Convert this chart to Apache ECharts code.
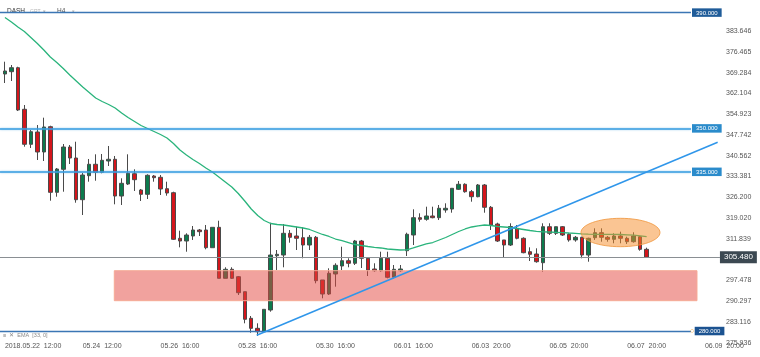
<!DOCTYPE html>
<html><head><meta charset="utf-8">
<script src="https://cdn.jsdelivr.net/npm/echarts@6/dist/echarts.min.js"></script>
<style>html,body{margin:0;padding:0;background:#fff}#c{width:760px;height:357px}</style>
</head><body><div id="c"></div>
<script>
// ---------- data ----------
const xTickIndex = [0, 12, 24, 36, 48, 60, 72, 84, 96, 108];
const xTickLabels = ['2018.05.22  12:00', '05.24  12:00', '05.26  16:00', '05.28  16:00', '05.30  16:00',
  '06.01  16:00', '06.03  20:00', '06.05  20:00', '06.07  20:00', '06.09  20:00'];
const yTickValues = [275.936, 283.116, 290.297, 297.478, 311.839, 319.020, 326.200, 333.381,
  340.562, 347.742, 354.923, 362.104, 369.284, 376.465, 383.646];

const opens = [368.79,369.59,370.97,356.60,344.51,348.76,341.85,350.59,327.92,335.87,
  343.57,339.77,325.37,333.66,337.60,334.83,338.74,339.33,326.64,330.79,
  334.35,328.72,327.23,333.55,333.11,329.17,327.79,312.04,311.10,312.83,
  314.90,314.90,308.79,315.83,298.21,301.33,298.77,293.59,284.40,280.94,
  279.77,287.26,306.02,306.26,313.76,312.83,312.24,309.72,312.38,297.63,
  292.79,299.70,302.47,304.30,303.40,311.10,305.13,301.43,300.84,305.13,
  298.56,300.84,307.75,313.17,319.15,318.60,319.74,319.15,321.81,322.15,
  328.96,330.69,328.13,326.40,330.45,322.74,316.97,311.46,309.72,315.49,
  312.04,307.40,306.61,303.60,316.04,313.76,316.04,313.42,311.46,312.38,
  306.26,312.24,313.97,312.38,311.69,312.83,312.04,310.86,312.59,308.23];
const closes = [369.83,370.97,356.36,344.51,348.86,341.85,350.48,327.92,335.97,343.57,
  339.77,325.37,333.90,337.60,334.83,338.98,339.33,326.64,331.03,334.49,
  332.28,327.23,333.80,332.97,329.07,327.68,311.69,311.10,313.17,314.90,
  314.32,308.79,315.83,298.21,301.33,298.21,293.24,284.05,280.94,279.77,
  287.50,306.26,306.50,313.76,312.38,312.04,309.72,312.38,297.39,292.79,
  299.95,302.71,304.30,303.40,311.10,305.13,301.08,300.84,305.13,298.56,
  301.33,301.43,313.42,319.15,318.60,319.74,319.15,322.40,322.40,329.31,
  330.69,328.13,326.40,330.45,322.74,316.63,311.10,309.72,316.11,312.04,
  307.06,306.50,303.95,316.04,313.76,316.04,313.17,311.46,312.38,306.26,
  312.04,313.97,312.38,311.69,312.83,312.04,310.86,312.83,308.23,305.48];
const lows = [365.68,366.37,356.00,343.68,343.23,339.08,338.74,325.02,326.40,328.13,
  337.70,324.33,320.08,331.59,331.93,334.49,337.01,323.78,323.54,330.45,
  328.38,324.92,325.61,331.59,326.99,326.75,311.46,308.92,307.40,311.46,
  312.83,308.23,308.79,298.21,298.21,297.97,292.45,282.67,279.42,278.29,
  279.77,286.68,301.08,302.02,310.52,307.99,305.13,307.99,296.49,291.31,
  292.45,295.32,301.08,302.02,302.81,301.77,299.01,300.50,300.50,298.21,
  298.21,300.50,305.92,309.72,317.77,318.11,318.94,318.35,320.88,320.88,
  328.72,327.79,324.68,326.20,320.88,314.90,310.76,305.47,309.37,311.69,
  306.86,304.19,303.60,300.50,313.17,313.17,312.83,310.86,310.86,305.13,
  303.95,311.46,310.86,310.86,310.31,310.31,310.07,310.52,307.75,305.48];
const highs = [373.04,371.90,371.30,358.08,349.45,351.17,353.70,350.93,336.32,344.61,
  344.26,345.40,334.59,339.43,341.05,341.16,343.92,340.47,332.76,341.05,
  335.87,329.07,334.14,333.90,333.90,331.59,328.13,314.66,313.76,316.28,
  315.25,316.63,315.83,318.11,302.02,302.02,299.01,293.59,285.19,282.67,
  287.50,317.42,307.99,316.97,314.90,316.04,315.83,313.17,312.83,297.63,
  301.67,303.40,309.13,305.13,311.46,311.46,305.47,303.40,307.40,307.40,
  302.81,302.81,313.97,322.05,320.67,322.95,322.95,323.54,324.12,329.31,
  331.83,331.03,328.72,330.79,330.79,323.19,317.42,311.46,317.22,316.63,
  312.38,308.92,308.58,317.22,317.22,316.04,316.28,313.76,312.83,312.59,
  312.24,315.49,315.49,312.83,313.76,314.32,312.59,314.11,312.83,308.79];
const ema33 = [388.31,386.75,385.03,383.47,381.40,379.33,377.08,374.66,372.76,370.69,
  368.45,366.37,364.30,362.40,360.50,359.29,358.26,357.05,355.32,353.76,
  352.38,351.00,349.96,348.93,347.89,346.68,344.78,342.54,340.81,339.26,
  337.87,336.32,334.94,333.21,331.48,329.76,327.51,324.92,322.16,319.91,
  318.18,317.15,316.80,316.63,316.28,315.94,315.59,315.08,314.21,313.35,
  312.66,311.79,311.27,310.58,309.89,309.55,309.20,308.93,308.69,308.34,
  308.17,308.00,308.07,308.69,309.38,310.07,310.58,311.45,312.31,313.35,
  314.38,315.25,315.94,316.35,316.63,316.46,316.11,315.94,315.77,315.42,
  315.08,314.73,314.45,314.28,314.21,314.10,314.00,313.86,313.76,313.59,
  313.45,313.42,313.42,313.42,313.42,313.35,313.25,313.11,312.90,312.59];

const levels = [390, 350, 335, 280];
const levelLabels = ['390.000', '350.000', '335.000', '280.000'];
const lastPrice = 305.48;
const supportZone = [16.87, 106.77, 290.48, 300.84];   // [fromIdx, toIdx, low, high]
const rangeEllipse = [88.87, 101.06, 309.13, 318.94];  // [fromIdx, toIdx, low, high]
const trendLine = [[38.84, 278.53], [109.96, 345.20]];

// ---------- axis extents ----------
const X_MIN = -0.762, X_MAX = 116.49, LEVEL_END = 105.84, PRICE_END = 110.31;
const Y_MIN = 275.936, Y_MAX = 394.354;

const FONT = 'Liberation Sans, Arial, sans-serif';
const candleData = opens.map((o, i) => [i, o, closes[i], lows[i], highs[i]]);
const emaData = ema33.map((v, i) => [i, v]);

const levelStyles = [
  {line: {color: '#3b76b4', width: 1.3}, bg: '#1f5c99'},
  {line: {color: '#3a9ee0', width: 1.6, shadowBlur: 2, shadowColor: 'rgba(58,158,224,0.6)'}, bg: '#2a8bcb'},
  {line: {color: '#3a9ee0', width: 1.6, shadowBlur: 2, shadowColor: 'rgba(58,158,224,0.6)'}, bg: '#2a8bcb'},
  {line: {color: '#3b76b4', width: 1.3}, bg: '#1c5391'}
];

const markLines = levels.map((v, k) => {
  const isAlert = k === 3;
  return [{
    coord: [X_MIN, v],
    lineStyle: Object.assign({type: 'solid'}, levelStyles[k].line),
    label: {
      show: true, position: 'end', distance: isAlert ? -1 : 1,
      formatter: isAlert ? '{c|○}{b|' + levelLabels[k] + '}' : '{b|' + levelLabels[k] + '}',
      rich: {
        b: {backgroundColor: levelStyles[k].bg, color: '#fff', fontSize: 6, fontFamily: FONT, padding: [1.5, 4, 1, 4]},
        c: {color: '#f0a030', fontSize: 7, fontFamily: FONT, padding: [0, 0.5, 0, 0]}
      }
    }
  }, {coord: [LEVEL_END, v]}];
});
markLines.push([{
  coord: [X_MIN, lastPrice],
  lineStyle: {type: 'solid', color: '#8a8f93', width: 1},
  label: {show: true, position: 'end', distance: 0, formatter: lastPrice.toFixed(3),
    backgroundColor: '#3c4952', color: '#fff', fontSize: 8, fontFamily: FONT, padding: [2, 4, 2, 4]}
}, {coord: [PRICE_END, lastPrice]}]);

const chart = echarts.init(document.getElementById('c'), null, {renderer: 'canvas'});
chart.setOption({
  animation: false,
  backgroundColor: '#ffffff',
  grid: {left: 0, right: 0, top: 0, bottom: 14.2, containLabel: false, outerBoundsMode: 'none'},
  xAxis: {
    type: 'value', min: X_MIN, max: X_MAX,
    axisLine: {show: false}, axisTick: {show: false}, splitLine: {show: false},
    axisLabel: {
      customValues: xTickIndex,
      formatter: v => xTickLabels[xTickIndex.indexOf(Math.round(v))] || '',
      align: 'left', fontSize: 7, color: '#555', margin: 0, fontFamily: FONT
    }
  },
  yAxis: {
    type: 'value', position: 'right', offset: -38, min: Y_MIN, max: Y_MAX, scale: true,
    axisLine: {show: false},
    axisTick: {show: false},
    splitLine: {show: false},
    axisLabel: {customValues: yTickValues, formatter: v => v.toFixed(3), fontSize: 7, color: '#555', margin: 4, fontFamily: FONT}
  },
  graphic: [
    {type: 'text', x: 7, y: 8, style: {text: 'DASH', fill: '#333', fontSize: 6.5, fontFamily: FONT}},
    {type: 'text', x: 30, y: 9, style: {text: 'GRT  ▾', fill: '#b5b5b5', fontSize: 5, fontFamily: FONT}},
    {type: 'text', x: 57, y: 8, style: {text: 'H4', fill: '#555', fontSize: 6.5, fontFamily: FONT}},
    {type: 'text', x: 72, y: 9, style: {text: '▾', fill: '#b5b5b5', fontSize: 5, fontFamily: FONT}},
    {type: 'text', x: 3, y: 332, style: {text: '≡  ✕  EMA  [33, 0]', fill: '#888', fontSize: 5.5, fontFamily: FONT}}
  ],
  series: [
    {
      type: 'candlestick', name: 'DASH', data: candleData, encode: {x: 0, y: [1, 2, 3, 4]},
      barWidth: 4, z: 2,
      itemStyle: {color: '#0c7b4d', color0: '#d4151b', borderColor: '#4a4a4a', borderColor0: '#4a4a4a', borderWidth: 1},
      markLine: {silent: true, animation: false, symbol: ['none', 'none'], z: 5, data: markLines}
    },
    {
      type: 'line', name: 'EMA', data: emaData, symbol: 'none', showSymbol: false, z: 3,
      lineStyle: {color: '#2ab47c', width: 1.3}
    },
    {
      type: 'custom', name: 'zone', data: [supportZone], encode: {x: [0, 1], y: [2, 3]}, z: 4, silent: true,
      renderItem: (params, api) => {
        const p0 = api.coord([api.value(0), api.value(3)]);
        const p1 = api.coord([api.value(1), api.value(2)]);
        return {type: 'rect', shape: {x: p0[0], y: p0[1], width: p1[0] - p0[0], height: p1[1] - p0[1]},
          style: {fill: 'rgba(228,70,62,0.5)', stroke: 'rgba(246,170,150,1)', lineWidth: 1}};
      }
    },
    {
      type: 'custom', name: 'range', data: [rangeEllipse], encode: {x: [0, 1], y: [2, 3]}, z: 4, silent: true,
      renderItem: (params, api) => {
        const p0 = api.coord([api.value(0), api.value(3)]);
        const p1 = api.coord([api.value(1), api.value(2)]);
        return {type: 'ellipse', shape: {cx: (p0[0] + p1[0]) / 2, cy: (p0[1] + p1[1]) / 2,
          rx: (p1[0] - p0[0]) / 2, ry: (p1[1] - p0[1]) / 2},
          style: {fill: 'rgba(245,140,40,0.5)', stroke: 'rgba(240,150,60,0.8)', lineWidth: 1}};
      }
    },
    {
      type: 'line', name: 'trend', data: trendLine, symbol: 'none', showSymbol: false, z: 6,
      lineStyle: {color: '#2f96ea', width: 1.5}
    }
  ]
});
</script>
</body></html>
